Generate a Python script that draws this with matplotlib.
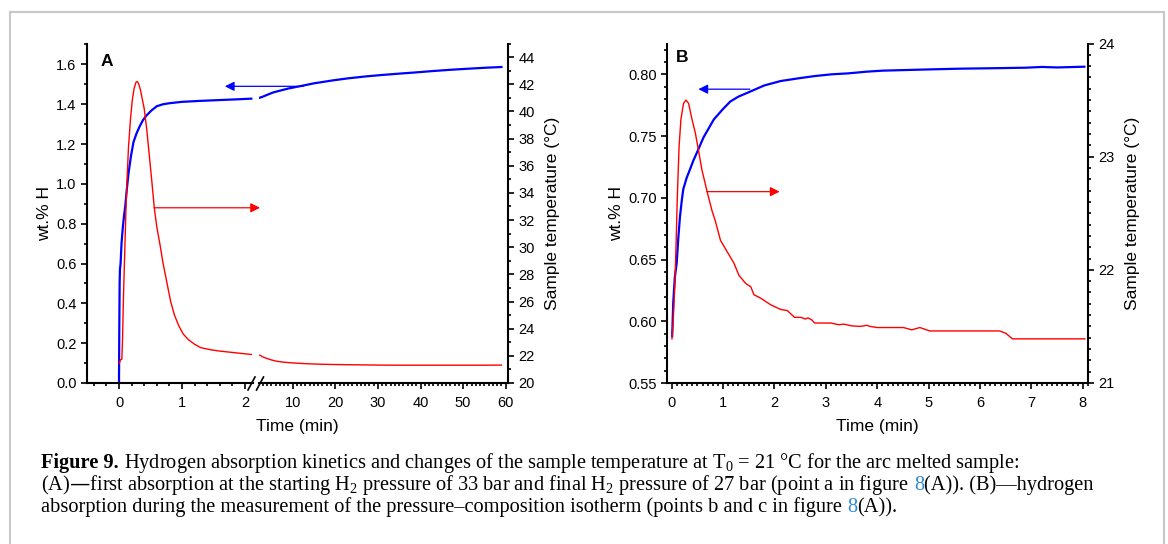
import matplotlib
matplotlib.use('Agg')
import matplotlib.pyplot as plt
from matplotlib.ticker import MultipleLocator, FormatStrFormatter
from matplotlib.patches import Rectangle
from matplotlib.lines import Line2D

W, H = 1168, 544
plt.rcParams['font.family'] = 'Liberation Sans'
plt.rcParams['mathtext.default'] = 'regular'

BLUE = '#0000ff'
RED = '#ff0000'

# ---- panel A, first part of the broken time axis (0 - 2.1 min)
a1_t_h = [0.0, 0.004, 0.01, 0.015, 0.025, 0.04, 0.06, 0.08, 0.1, 0.12, 0.15, 0.19, 0.23,
          0.28, 0.33, 0.38, 0.44, 0.52, 0.6, 0.7, 0.8, 1.0, 1.3, 1.6, 1.9, 2.1]
a1_h = [0.0, 0.25, 0.5, 0.57, 0.6, 0.7, 0.78, 0.84, 0.89, 0.96, 1.05, 1.14, 1.21,
        1.255, 1.29, 1.32, 1.345, 1.37, 1.39, 1.4, 1.405, 1.412, 1.417, 1.421, 1.425, 1.428]
a1_t_T = [0.0, 0.01, 0.02, 0.045, 0.055, 0.07, 0.09, 0.11, 0.125, 0.15, 0.18, 0.21, 0.24,
          0.27, 0.29, 0.31, 0.34, 0.37, 0.4, 0.44, 0.48, 0.52, 0.56, 0.6, 0.65, 0.7, 0.76,
          0.82, 0.88, 0.95, 1.02, 1.1, 1.2, 1.3, 1.45, 1.6, 1.8, 2.0, 2.1]
a1_T = [21.45, 21.5, 21.7, 21.75, 23.0, 26.2, 29.5, 32.7, 34.7, 37.3, 39.3, 40.8, 41.7,
        42.15, 42.2, 42.05, 41.6, 40.9, 40.2, 38.7, 36.8, 34.9, 32.9, 31.5, 30.2, 28.8, 27.4,
        26.0, 25.0, 24.2, 23.6, 23.2, 22.85, 22.6, 22.45, 22.35, 22.25, 22.15, 22.1]

# ---- panel A, second part (2.3 - 59 min)
a2_t_h = [2.3, 3, 4, 5.4, 7, 9, 11.6, 15, 19.5, 23, 27.3, 31, 35.2, 39, 43.1, 47, 50.9, 55, 59]
a2_h = [1.433, 1.438, 1.447, 1.459, 1.468, 1.479, 1.49, 1.505, 1.52, 1.53, 1.54, 1.547,
        1.554, 1.56, 1.567, 1.573, 1.578, 1.583, 1.587]
a2_t_T = [2.3, 3, 4, 5, 6, 7, 8, 10, 12, 14, 17, 20, 25, 30, 35, 40, 45, 50, 55, 59]
a2_T = [22.05, 21.92, 21.8, 21.7, 21.62, 21.57, 21.53, 21.48, 21.44, 21.41, 21.38, 21.36,
        21.34, 21.32, 21.31, 21.31, 21.31, 21.31, 21.31, 21.32]

# ---- panel B
b_t_h = [0.01, 0.03, 0.06, 0.097, 0.13, 0.162, 0.2, 0.226, 0.29, 0.356, 0.42, 0.49, 0.62,
         0.82, 1.0, 1.14, 1.3, 1.47, 1.8, 2.12, 2.5, 2.78, 3.1, 3.43, 3.8, 4.1, 5.0, 5.6,
         6.3, 6.89, 7.2, 7.5, 8.03]
b_h = [0.588, 0.615, 0.635, 0.647, 0.668, 0.685, 0.699, 0.707, 0.716, 0.723, 0.73, 0.7365,
       0.749, 0.7635, 0.772, 0.778, 0.782, 0.785, 0.791, 0.7946, 0.797, 0.7986, 0.8, 0.8008,
       0.8022, 0.803, 0.804, 0.8046, 0.805, 0.8054, 0.806, 0.8056, 0.8062]
b_t_T = [0.005, 0.03, 0.065, 0.09, 0.11, 0.144, 0.18, 0.23, 0.28, 0.33, 0.39, 0.46, 0.52,
         0.59, 0.69, 0.78, 0.85, 0.95, 1.08, 1.21, 1.31, 1.44, 1.54, 1.6, 1.73, 1.93, 2.12,
         2.25, 2.39, 2.52, 2.6, 2.65, 2.72, 2.78, 3.1, 3.25, 3.35, 3.5, 3.67, 3.8, 3.86, 4.0,
         4.51, 4.67, 4.83, 5.02, 6.38, 6.5, 6.63, 8.04]
b_T = [21.39, 21.55, 21.9, 22.3, 22.65, 23.09, 23.33, 23.47, 23.5, 23.47, 23.34, 23.21, 23.06,
       22.88, 22.69, 22.53, 22.43, 22.26, 22.16, 22.06, 21.95, 21.88, 21.85, 21.78, 21.75,
       21.69, 21.65, 21.64, 21.58, 21.58, 21.565, 21.575, 21.56, 21.53, 21.53, 21.515, 21.52,
       21.505, 21.5, 21.51, 21.5, 21.49, 21.49, 21.47, 21.49, 21.46, 21.46, 21.44, 21.39, 21.39]

# guide arrows: (start, end) in (time, wt.%) units
arrA_blue = ((12.5, 1.49), (1.68, 1.49))
arrA_red = ((0.556, 0.88), (2.34, 0.88))
arrB_blue = ((1.52, 0.788), (0.52, 0.788))
arrB_red = ((0.68, 0.705), (2.1, 0.705))

fig = plt.figure(figsize=(W / 100, H / 100), dpi=100)
fig.patch.set_facecolor('white')


def rect(l, t, r, b):
    return [l / W, 1 - b / H, (r - l) / W, (b - t) / H]


def style(ax):
    ax.patch.set_visible(False)
    for s in ax.spines.values():
        s.set_linewidth(1.5)
    ax.tick_params(which='both', direction='out', width=1.2, labelsize=10.5)
    ax.tick_params(which='major', length=4.5, pad=3)
    ax.tick_params(which='minor', length=2.5)


TOP, BOT = 43.5, 383
axA1 = fig.add_axes(rect(87, TOP, 253, BOT))
axA2 = fig.add_axes(rect(259, TOP, 508, BOT))
axB = fig.add_axes(rect(667, TOP, 1088, BOT))
twA1 = axA1.twinx()
twA2 = axA2.twinx()
twB = axB.twinx()
for ax in (axA1, axA2, axB, twA1, twA2, twB):
    style(ax)

# panel A left segment
axA1.plot(a1_t_h, a1_h, color=BLUE, lw=1.6)
twA1.plot(a1_t_T, a1_T, color=RED, lw=1.0)
axA1.set_xlim(-0.508, 2.127)
axA1.set_ylim(0, 1.705)
twA1.set_ylim(20, 45)
twA1.axis('off')
axA1.spines[['top', 'right']].set_visible(False)
axA1.xaxis.set_major_locator(MultipleLocator(1))
axA1.xaxis.set_minor_locator(MultipleLocator(0.2))
axA1.yaxis.set_major_locator(MultipleLocator(0.2))
axA1.yaxis.set_minor_locator(MultipleLocator(0.1))
axA1.yaxis.set_major_formatter(FormatStrFormatter('%.1f'))
axA1.tick_params(axis='x', pad=5)

# panel A right segment
axA2.plot(a2_t_h, a2_h, color=BLUE, lw=1.6)
twA2.plot(a2_t_T, a2_T, color=RED, lw=1.0)
axA2.set_xlim(2.10, 60.53)
axA2.set_ylim(0, 1.705)
twA2.set_ylim(20, 45)
axA2.spines[['top', 'left', 'right']].set_visible(False)
twA2.spines[['top', 'left', 'bottom']].set_visible(False)
axA2.tick_params(axis='y', which='both', left=False, labelleft=False)
axA2.xaxis.set_major_locator(MultipleLocator(10))
axA2.xaxis.set_minor_locator(MultipleLocator(1))
axA2.tick_params(axis='x', pad=5)
twA2.yaxis.set_major_locator(MultipleLocator(2))
twA2.yaxis.set_minor_locator(MultipleLocator(1))

# panel B
axB.plot(b_t_h, b_h, color=BLUE, lw=1.6)
twB.plot(b_t_T, b_T, color=RED, lw=1.0)
axB.set_xlim(-0.091, 8.10)
axB.set_ylim(0.55, 0.825)
twB.set_ylim(21, 24)
axB.spines[['top', 'right']].set_visible(False)
twB.spines[['top', 'left', 'bottom']].set_visible(False)
axB.xaxis.set_major_locator(MultipleLocator(1))
axB.xaxis.set_minor_locator(MultipleLocator(0.1))
axB.yaxis.set_major_locator(MultipleLocator(0.05))
axB.yaxis.set_minor_locator(MultipleLocator(0.01))
axB.yaxis.set_major_formatter(FormatStrFormatter('%.2f'))
axB.tick_params(axis='x', pad=5)
twB.yaxis.set_major_locator(MultipleLocator(1))
twB.yaxis.set_minor_locator(MultipleLocator(0.1))

# arrows
aprops = dict(arrowstyle='-|>', lw=0.9, mutation_scale=14, shrinkA=0, shrinkB=0)
axA2.annotate('', xy=arrA_blue[1], xycoords=axA1.transData,
              xytext=arrA_blue[0], textcoords=axA2.transData,
              arrowprops=dict(aprops, color=BLUE), annotation_clip=False)
axA2.annotate('', xy=arrA_red[1], xycoords=axA2.transData,
              xytext=arrA_red[0], textcoords=axA1.transData,
              arrowprops=dict(aprops, color=RED), annotation_clip=False)
axB.annotate('', xy=arrB_blue[1], xytext=arrB_blue[0],
             arrowprops=dict(aprops, color=BLUE))
axB.annotate('', xy=arrB_red[1], xytext=arrB_red[0],
             arrowprops=dict(aprops, color=RED))

# axis break marks
for x0 in (248, 256.5):
    fig.add_artist(Line2D([x0 / W, (x0 + 7) / W], [1 - 390 / H, 1 - 377 / H],
                          transform=fig.transFigure, color='black', lw=1.2))

# labels
LBL = 12.5
fig.text(45 / W, 1 - 214 / H, 'wt.% H', rotation=90, ha='center', va='center', fontsize=LBL)
fig.text(552 / W, 1 - 213 / H, 'Sample temperature (°C)', rotation=90, ha='center',
         va='center', fontsize=LBL)
fig.text(297.5 / W, 1 - 427 / H, 'Time (min)', ha='center', va='center', fontsize=LBL)
fig.text(617 / W, 1 - 214 / H, 'wt.% H', rotation=90, ha='center', va='center', fontsize=LBL)
fig.text(1132 / W, 1 - 213 / H, 'Sample temperature (°C)', rotation=90, ha='center',
         va='center', fontsize=LBL)
fig.text(877.5 / W, 1 - 427 / H, 'Time (min)', ha='center', va='center', fontsize=LBL)
fig.text(106.7 / W, 1 - 61 / H, 'A', ha='center', va='center', fontsize=12.5, fontweight='bold')
fig.text(682 / W, 1 - 57 / H, 'B', ha='center', va='center', fontsize=12.5, fontweight='bold')

# outer frame
fig.add_artist(Rectangle((9.5 / W, -0.1), (1163.5 - 9.5) / W, 1.1 - 11.5 / H,
                         transform=fig.transFigure, fill=False, ec='#c8c8c8', lw=1.5))

# caption
renderer = fig.canvas.get_renderer()
LINK = '#2f8bd0'
cap_lines = [
    [('Figure 9.', dict(fontweight='bold')),
     (' Hydrogen absorption kinetics and changes of the sample temperature at '
      'T$_0$ = 21 °C for the arc melted sample:', {})],
    [('(A)—first absorption at the starting H$_2$ pressure of 33 bar and final H$_2$ '
      'pressure of 27 bar (point a in figure ', {}),
     ('8', dict(color=LINK)),
     ('(A)). (B)—hydrogen', {})],
    [('absorption during the measurement of the pressure–composition isotherm '
      '(points b and c in figure ', {}),
     ('8', dict(color=LINK)),
     ('(A)).', {})],
]
cap_target = 914 + 1082 + 894   # summed pixel widths of the three caption lines


def text_width(s, **kw):
    t = fig.text(0, 0, s, **kw)
    w = t.get_window_extent(renderer).width
    t.remove()
    return w


def line_width(runs, size):
    base = dict(fontsize=size, family='Liberation Serif')
    sp = text_width('a a', **base) - text_width('aa', **base)
    total = 0
    for s, extra in runs:
        total += (len(s) - len(s.strip(' '))) * sp
        total += text_width(s.strip(' '), **dict(base, **extra))
    return total


def caption_line(runs, x, y, size):
    base = dict(fontsize=size, family='Liberation Serif')
    sp = text_width('a a', **base) - text_width('aa', **base)
    for s, extra in runs:
        x += (len(s) - len(s.lstrip(' '))) * sp
        t = fig.text(x / W, 1 - y / H, s.strip(' '), ha='left', va='baseline',
                     **dict(base, **extra))
        x += t.get_window_extent(renderer).width
        x += (len(s) - len(s.rstrip(' '))) * sp


cap_size = 12 * cap_target / sum(line_width(r, 12) for r in cap_lines)
for i, runs in enumerate(cap_lines):
    caption_line(runs, 41, 468 + 22 * i, cap_size)

fig.savefig('out.png', dpi=100, facecolor='white')
